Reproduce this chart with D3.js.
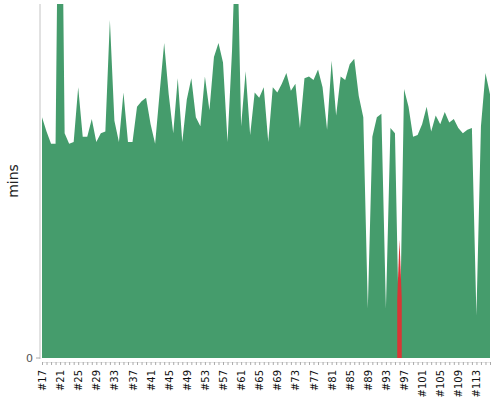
<!DOCTYPE html>
<html lang="en">
<head>
<meta charset="utf-8">
<title>Build time trend</title>
<style>
  body { margin: 0; background: #fff; }
  text { font-family: "DejaVu Sans", sans-serif; }
</style>
</head>
<body>
<svg width="500" height="400"></svg>

<script src="https://d3js.org/d3.v7.min.js"></script>
<script>
// build numbers #17 .. #116
var builds = d3.range(17, 117).map(function(n) { return "#" + n; });

// duration of each successful build, in minutes (0 where the build failed)
var successMins = [
    13.6, 12.8, 12.1, 12.1, 37.2, 12.7, 12.1, 12.2, 15.3, 12.5,
    12.5, 13.5, 12.2, 12.7, 12.8, 19.1, 13.4, 12.2, 15.0, 12.2,
    12.2, 14.2, 14.5, 14.7, 13.2, 12.1, 15.0, 17.8, 14.9, 12.7,
    15.8, 12.2, 14.6, 15.8, 13.6, 13.1, 15.9, 14.0, 17.0, 17.8,
    16.7, 12.2, 17.4, 25.3, 13.1, 16.2, 12.6, 15.0, 14.7, 15.3,
    12.2, 15.3, 15.0, 15.5, 16.1, 15.1, 15.5, 13.0, 15.8, 15.9,
    15.7, 16.3, 15.3, 12.9, 16.8, 13.7, 15.9, 15.7, 16.6, 16.9,
    14.8, 13.6, 2.8, 12.5, 13.6, 13.8, 2.8, 13.0, 12.7, 0,
    15.2, 14.2, 12.5, 12.6, 13.2, 14.2, 12.8, 13.7, 13.2, 13.9,
    13.3, 13.5, 13.0, 12.7, 12.9, 13.0, 2.4, 13.1, 16.1, 14.9
];

// failed builds
var failedBuilds = ["#96"];
var failedMins = [6.7];

var yTicks = [0];

var svg = d3.select("svg");

var x = d3.scalePoint().domain(builds).range([42, 490]);
var y = d3.scaleLinear().domain([0, 20]).range([358, 4]);
var step = x.step();

svg.append("defs").append("clipPath").attr("id", "plot")
    .append("rect").attr("x", 42).attr("y", 4).attr("width", 449).attr("height", 355);

var plot = svg.append("g").attr("clip-path", "url(#plot)");

var area = d3.area()
    .x(function(d) { return d.x; })
    .y0(y(0))
    .y1(function(d) { return y(d.v); });

var okPoints = builds.map(function(b, i) { return { x: x(b), v: successMins[i] }; });
plot.append("path")
    .attr("d", area(okPoints))
    .attr("fill", "#459c6c");

// each failed build is drawn over half a category on each side
failedBuilds.forEach(function(b, i) {
    var v = failedMins[i];
    var pts = [
        { x: x(b) - step / 2, v: v / 2 },
        { x: x(b), v: v },
        { x: x(b) + step / 2, v: v / 2 }
    ];
    plot.append("path")
        .attr("d", area(pts))
        .attr("fill", "#d93636");
});

// y axis
svg.append("line")
    .attr("x1", 40).attr("x2", 40)
    .attr("y1", 4).attr("y2", 359)
    .attr("stroke", "#c4c4c4");

yTicks.forEach(function(t) {
    svg.append("line")
        .attr("x1", 36).attr("x2", 40)
        .attr("y1", y(t)).attr("y2", y(t))
        .attr("stroke", "#aaa");
    svg.append("text")
        .attr("x", 33).attr("y", y(t))
        .attr("dy", "0.35em")
        .attr("text-anchor", "end")
        .attr("font-size", 11)
        .attr("fill", "#555")
        .text(t);
});

svg.append("text")
    .attr("transform", "translate(18,181) rotate(-90)")
    .attr("text-anchor", "middle")
    .attr("font-size", 14)
    .attr("fill", "#222")
    .text("mins");

// x axis: a tick per build, a label every 4th
var xa = svg.append("g");
xa.append("line")
    .attr("x1", 42).attr("x2", 491)
    .attr("y1", 362.5).attr("y2", 362.5)
    .attr("stroke", "#e4e4e4");
xa.selectAll(".tick").data(builds).enter().append("line")
    .attr("x1", function(d) { return x(d) + 0.5; })
    .attr("x2", function(d) { return x(d) + 0.5; })
    .attr("y1", 362).attr("y2", 365)
    .attr("stroke", "#aaa");
xa.selectAll(".lbl").data(builds.filter(function(d, i) { return i % 4 === 0; }))
    .enter().append("text")
    .attr("transform", function(d) { return "translate(" + (x(d) + 0.5) + ",370) rotate(-90)"; })
    .attr("text-anchor", "end")
    .attr("dy", "0.35em")
    .attr("font-size", 10)
    .attr("fill", "#111")
    .text(function(d) { return d; });
</script>
</body>
</html>
